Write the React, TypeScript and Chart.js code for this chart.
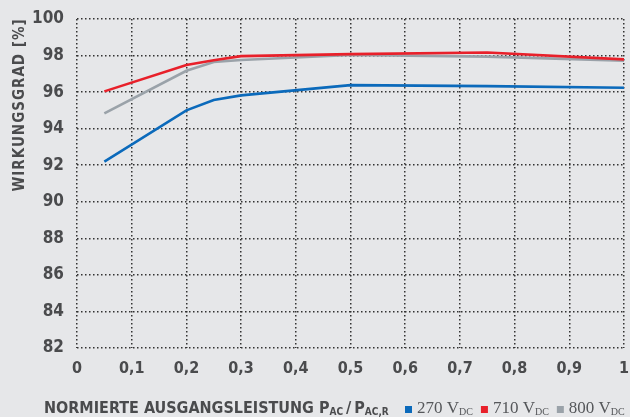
import React, { useEffect, useRef } from "react";
import { Chart, registerables } from "chart.js";

Chart.register(...registerables);

const xValues = [0.05, 0.2, 0.25, 0.3, 0.5, 0.75, 1.0];
const series270 = [92.2, 95.0, 95.57, 95.82, 96.38, 96.33, 96.24];
const series710 = [96.04, 97.48, 97.74, 97.97, 98.08, 98.17, 97.79];
const series800 = [94.84, 97.17, 97.65, 97.76, 98.03, 97.94, 97.72];
const seriesLabels = ["270", "710", "800"];
const seriesColors = ["#0b6abb", "#e8202a", "#9aa2a9"];
const yTitle = "WIRKUNGSGRAD [%]";
const xTitle = "NORMIERTE AUSGANGSLEISTUNG";

const BOLD = "'DejaVu Sans Condensed', 'Liberation Sans Narrow', 'Roboto', sans-serif";
const SERIF = "'Liberation Serif', 'DejaVu Serif', serif";
const TEXT = "#4a4b4d";

const decor = {
  id: "decor",
  afterDraw(chart: any) {
    const ctx = chart.ctx as CanvasRenderingContext2D;
    ctx.save();
    ctx.fillStyle = TEXT;
    // Y title
    ctx.save();
    ctx.translate(24, 105);
    ctx.rotate(-Math.PI / 2);
    ctx.font = `bold 15px ${BOLD}`;
    (ctx as any).letterSpacing = "1px";
    ctx.textAlign = "center";
    ctx.textBaseline = "alphabetic";
    ctx.fillText(yTitle, 0, 0);
    ctx.restore();
    // X title
    ctx.font = `bold 16px ${BOLD}`;
    ctx.textAlign = "left";
    ctx.textBaseline = "alphabetic";
    let x = 44;
    const yb = 413;
    ctx.fillText(xTitle + " ", x, yb);
    x += ctx.measureText(xTitle + " ").width;
    const sub = (main: string, s: string) => {
      ctx.font = `bold 16px ${BOLD}`;
      ctx.fillText(main, x, yb);
      x += ctx.measureText(main).width;
      ctx.font = `bold 10px ${BOLD}`;
      ctx.fillText(s, x, yb + 2);
      x += ctx.measureText(s).width;
    };
    sub("P", "AC");
    ctx.font = `bold 16px ${BOLD}`;
    x += 3;
    ctx.fillText("/", x, yb);
    x += ctx.measureText("/").width + 3;
    sub("P", "AC,R");
    // Legend
    let lx = 405;
    for (let i = 0; i < seriesLabels.length; i++) {
      ctx.fillStyle = seriesColors[i];
      ctx.fillRect(lx, 406, 7, 7);
      lx += 12;
      ctx.fillStyle = "#55575a";
      ctx.font = `17px ${SERIF}`;
      const t = seriesLabels[i] + " V";
      ctx.fillText(t, lx, 413);
      lx += ctx.measureText(t).width;
      ctx.font = `10px ${SERIF}`;
      ctx.fillText("DC", lx, 415);
      lx += ctx.measureText("DC").width + 8;
    }
    ctx.restore();
  },
};

export default function App() {
  const ref = useRef<HTMLCanvasElement>(null);
  useEffect(() => {
    document.body.style.margin = "0";
    document.body.style.background = "#e6e7e9";
    const mk = (i: number, d: number[]) => ({
      label: seriesLabels[i],
      data: xValues.map((x, k) => ({ x, y: d[k] })),
      borderColor: seriesColors[i],
      borderWidth: 2.6,
      pointRadius: 0,
      tension: 0,
      fill: false,
    });
    const grid = {
      color: "#333333",
      lineWidth: 1.5,
      drawTicks: false,
    };
    const border = { display: false, dash: [1.5, 2.5] } as any;
    const chart = new Chart(ref.current!, {
      type: "line",
      data: {
        datasets: [mk(1, series710), mk(2, series800), mk(0, series270)],
      },
      options: {
        animation: false,
        responsive: false,
        layout: { padding: { top: 19, right: 6, left: 0, bottom: 0 } },
        plugins: { legend: { display: false }, tooltip: { enabled: false } },
        scales: {
          x: {
            type: "linear",
            min: 0,
            max: 1,
            ticks: {
              stepSize: 0.1,
              color: TEXT,
              font: { family: BOLD, size: 16, weight: "bold" },
              padding: 11,
              callback: (v: any) => String(Math.round(Number(v) * 10) / 10).replace(".", ","),
            },
            grid: grid as any,
            border,
            afterFit: (s: any) => {
              s.height = 69;
              s.paddingLeft = 0;
              s.paddingRight = 0;
            },
          },
          y: {
            min: 82,
            max: 100,
            ticks: {
              stepSize: 2,
              color: TEXT,
              font: { family: BOLD, size: 17, weight: "bold" },
              padding: 13,
            },
            grid: grid as any,
            border,
            afterFit: (s: any) => {
              s.width = 77;
              s.paddingTop = 0;
              s.paddingBottom = 0;
            },
          },
        },
      },
      plugins: [decor],
    });
    return () => chart.destroy();
  }, []);
  return (
    <div style={{ width: 630, height: 417, background: "#e6e7e9" }}>
      <canvas ref={ref} width={630} height={417} />
    </div>
  );
}
